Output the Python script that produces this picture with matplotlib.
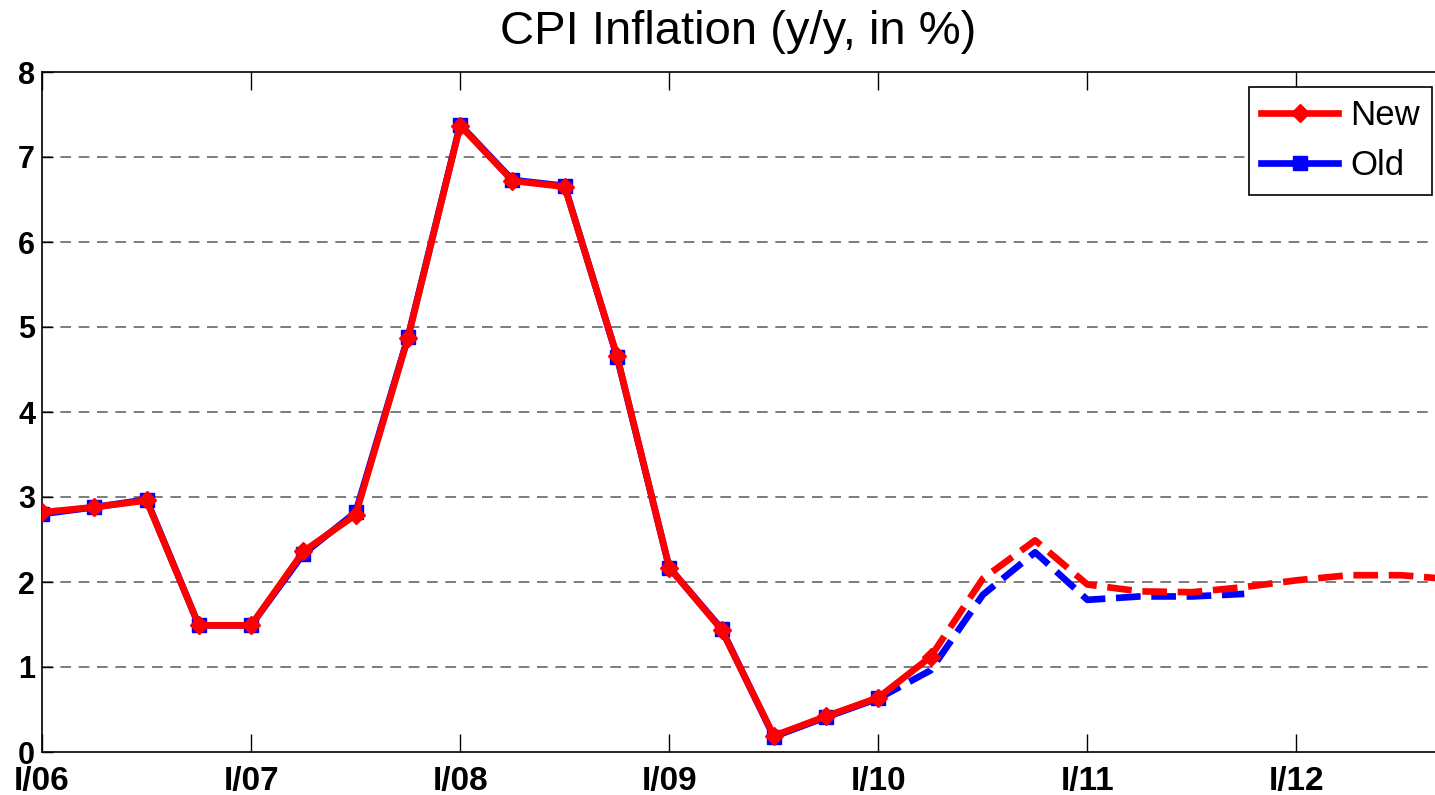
import matplotlib
matplotlib.use("Agg")
import matplotlib.pyplot as plt
import numpy as np

plt.rcParams['font.family'] = ['Liberation Sans', 'DejaVu Sans']

# quarterly y/y CPI inflation, starting I/06
newVals = [2.82, 2.88, 2.96, 1.49, 1.49, 2.36, 2.79, 4.87, 7.37, 6.72, 6.65, 4.66,
           2.17, 1.44, 0.19, 0.42, 0.64, 1.12, 2.04, 2.49, 1.97, 1.89, 1.88, 1.94,
           2.02, 2.08, 2.08, 2.03]
oldVals = [2.80, 2.88, 2.97, 1.49, 1.49, 2.33, 2.82, 4.88, 7.38, 6.73, 6.66, 4.65,
           2.17, 1.45, 0.18, 0.41, 0.63, 0.96, 1.85, 2.35, 1.79, 1.83, 1.83, 1.86]
newLastActual = 17   # red: solid with markers up to here, dashed after
oldLastActual = 16   # blue: same idea
tickLabels = ["I/06", "I/07", "I/08", "I/09", "I/10", "I/11", "I/12"]
tickPos = [0, 4, 8, 12, 16, 20, 24]

fig = plt.figure(figsize=(14.35, 7.95), dpi=100)
ax = fig.add_axes([42 / 1435, 43 / 795, (1435 - 42) / 1435, 680 / 795])

xNew = np.arange(len(newVals))
xOld = np.arange(len(oldVals))
lw = 4.8

# old (blue) first so the red sits on top
ax.plot(xOld[oldLastActual:], oldVals[oldLastActual:], color="blue", lw=lw, ls="--",
        zorder=3)
ax.plot(xOld[:oldLastActual + 1], oldVals[:oldLastActual + 1], color="blue", lw=lw,
        marker="s", markersize=10, zorder=3, label="Old")
ax.plot(xNew[newLastActual:], newVals[newLastActual:], color="red", lw=lw, ls="--",
        zorder=4)
ax.plot(xNew[:newLastActual + 1], newVals[:newLastActual + 1], color="red", lw=lw,
        marker="D", markersize=9, zorder=4, label="New")

ax.set_xlim(0, 26.65)
ax.set_ylim(0, 8)
ax.set_xticks(tickPos)
ax.set_xticklabels(tickLabels, fontsize=24, fontweight="bold")
ax.set_yticks(range(9))
ax.set_yticklabels([str(i) for i in range(9)], fontsize=22, fontweight="bold")
ax.tick_params(axis="x", direction="in", length=13, width=1, top=True, pad=10)
ax.tick_params(axis="y", direction="in", length=8, width=1, pad=5)

for y in range(1, 8):
    ax.axhline(y, color="0.35", lw=1.1, ls=(0, (7, 5)), zorder=1)

ax.spines["right"].set_visible(False)
for s in ["left", "top", "bottom"]:
    ax.spines[s].set_linewidth(1.2)

ax.set_title("CPI Inflation (y/y, in %)", fontsize=34, pad=20)

handles, labels = ax.get_legend_handles_labels()
leg = ax.legend(handles[::-1], labels[::-1], loc="upper right", fontsize=25,
                numpoints=1, fancybox=False, framealpha=1, edgecolor="black",
                borderpad=0.35, labelspacing=0.5, handlelength=2.2,
                handletextpad=0.35, borderaxespad=0,
                bbox_to_anchor=(0.9978, 0.978))
leg.get_frame().set_linewidth(1.2)

fig.savefig("out.png", dpi=100)
